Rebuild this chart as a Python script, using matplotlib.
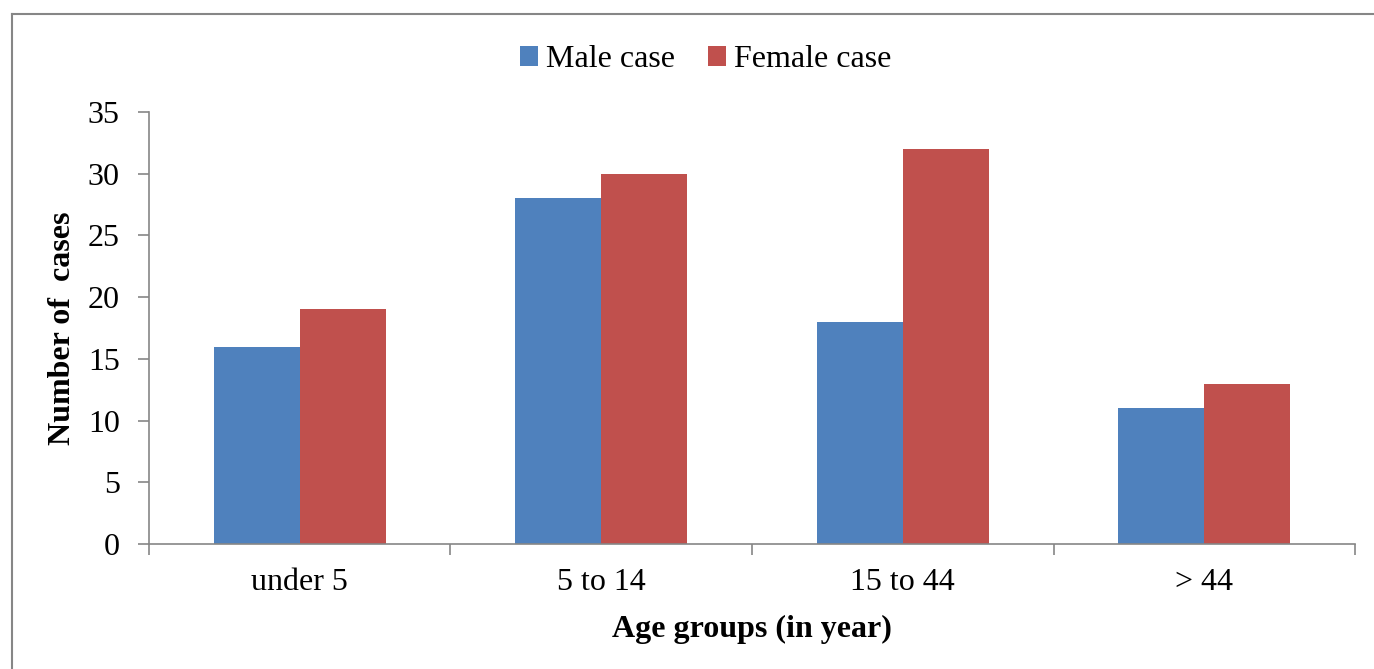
import numpy as np
import matplotlib
matplotlib.use("Agg")
import matplotlib.pyplot as plt
from matplotlib.lines import Line2D

categories = ["under 5", "5 to 14", "15 to 44", "> 44"]
male_cases = [16, 28, 18, 11]
female_cases = [19, 30, 32, 13]

plt.rcParams['font.family'] = ['Liberation Serif', 'DejaVu Serif']
FS = 23

fig = plt.figure(figsize=(13.74, 6.69), dpi=100)
ax = fig.add_axes([0.1084, 0.1868, 0.8778, 0.6458])

x = np.arange(len(categories))
w = 1 / 3.5
ax.bar(x - w / 2, male_cases, width=w, color='#4f81bd', label='Male case')
ax.bar(x + w / 2, female_cases, width=w, color='#c0504d', label='Female case')

ax.set_xlim(-0.5, len(categories) - 0.5)
ax.set_ylim(0, 35)
ax.set_yticks(range(0, 36, 5))
# category boundaries get the tick marks, centres get the labels
ax.set_xticks(np.arange(-0.5, len(categories), 1))
ax.set_xticklabels([])
ax.set_xticks(x, minor=True)
ax.set_xticklabels(categories, minor=True)
ax.tick_params(axis='x', which='minor', length=0, labelsize=FS, pad=17)
ax.tick_params(axis='x', which='major', length=8, color='#868686', width=1.2)
ax.tick_params(axis='y', length=8, color='#868686', width=1.2, labelsize=FS, pad=13)

for s in ['top', 'right']:
    ax.spines[s].set_visible(False)
for s in ['left', 'bottom']:
    ax.spines[s].set_color('#868686')
    ax.spines[s].set_linewidth(1.2)

ax.set_xlabel('Age groups (in year)', fontsize=FS, fontweight='bold', labelpad=13)
ax.set_ylabel('Number of  cases', fontsize=FS, fontweight='bold', labelpad=8)

ax.legend(loc='center', bbox_to_anchor=(0.4615, 1.121), ncol=2, frameon=False,
          fontsize=FS, handlelength=0.55, handleheight=0.55, handletextpad=0.25,
          columnspacing=1.05, borderaxespad=0, borderpad=0)

# outer chart border (top and left edges)
fig.add_artist(Line2D([12 / 1374, 1.0], [1 - 14 / 669, 1 - 14 / 669],
                      transform=fig.transFigure, color='#868686', lw=1.5))
fig.add_artist(Line2D([12 / 1374, 12 / 1374], [0.0, 1 - 14 / 669],
                      transform=fig.transFigure, color='#868686', lw=1.5))

fig.savefig("out.png", dpi=100)
